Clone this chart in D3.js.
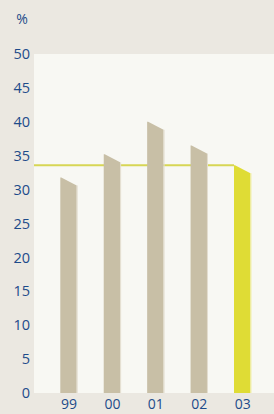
<!DOCTYPE html>
<html><head><meta charset="utf-8">
<script src="https://cdn.jsdelivr.net/npm/d3@7"></script>
<style>
html,body{margin:0;padding:0;background:#ebe8e1;overflow:hidden}
svg{display:block}
</style></head>
<body>
<script>
const categories = ["99","00","01","02","03"];
const values = [31.8, 35.2, 40.0, 36.5, 33.6];
const highlight = [false,false,false,false,true];
const yTicks = [0,5,10,15,20,25,30,35,40,45,50];
const refValue = 33.6;
const unitLabel = "%";

const W = 274, H = 414;
const svg = d3.select("body").append("svg").attr("width",W).attr("height",H);
svg.append("rect").attr("width",W).attr("height",H).attr("fill","#ebe8e1");

const plot = {left:34, right:274, top:54, bottom:393};
const y = d3.scaleLinear().domain([0,50]).range([plot.bottom, plot.top]);
const x = d3.scalePoint().domain(categories).range([68.5, 242.2]);
const barW = 16.4, slant = 8;

svg.append("rect").attr("x",plot.left).attr("y",plot.top)
  .attr("width",plot.right-plot.left).attr("height",plot.bottom-plot.top)
  .attr("fill","#f8f8f3");

const font = "'Open Sans', 'Noto Sans', sans-serif";
const blue = "#1d4b8a";

// y axis labels
const yAxis = d3.axisLeft(y).tickValues(yTicks).tickSize(0).tickPadding(4);
const gy = svg.append("g").attr("transform",`translate(${plot.left},0)`).call(yAxis);
gy.select(".domain").remove();
gy.selectAll("text").attr("fill",blue).style("font-family",font).style("font-size","14.5px");

// x axis labels
const xAxis = d3.axisBottom(x).tickSize(0).tickPadding(6);
const gx = svg.append("g").attr("transform",`translate(0,${plot.bottom})`).call(xAxis);
gx.select(".domain").remove();
gx.selectAll("text").attr("fill",blue).style("font-family",font).style("font-size","14px");

// reference line
const refIdx = highlight.indexOf(true);
svg.append("line")
  .attr("x1",plot.left).attr("x2",x(categories[refIdx]) - barW/2)
  .attr("y1",y(refValue)).attr("y2",y(refValue))
  .attr("stroke","#d7d654").attr("stroke-width",2);

// bars
categories.forEach((c,i)=>{
  const cx = x(c), x0 = cx - barW/2, x1 = cx + barW/2;
  const yt = y(values[i]), yb = y(0);
  const fill = highlight[i] ? "#dfdc35" : "#c8bfa6";
  svg.append("path")
    .attr("d",`M${x0},${yb}L${x0},${yt}L${x0+1},${yt}L${x1},${yt+slant}L${x1},${yb}Z`)
    .attr("fill",fill);
  svg.append("rect").attr("x",x1).attr("y",yt+slant).attr("width",1).attr("height",yb-yt-slant)
    .attr("fill", highlight[i] ? "#eeec9a" : "#e3ddcf");
});

// unit label
svg.append("text").attr("x",22).attr("y",24).attr("text-anchor","middle")
  .attr("fill",blue).style("font-family",font).style("font-size","14px").text(unitLabel);
</script>
</body></html>
